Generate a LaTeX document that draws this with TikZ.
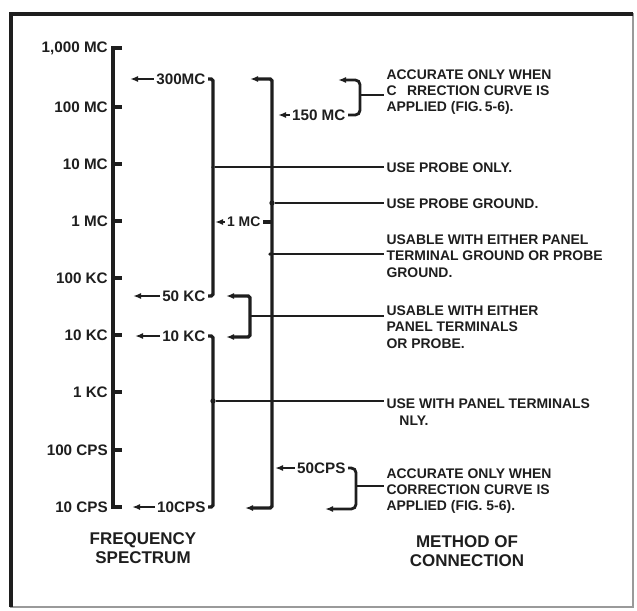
\documentclass[tikz,border=0pt]{standalone}
\usepackage{fontspec}
\setmainfont{Liberation Sans}
\usetikzlibrary{arrows.meta}
\definecolor{Ink}{HTML}{1E1E1E}
\definecolor{Frame}{HTML}{9A9A9A}

\begin{document}
\begin{tikzpicture}[x=0.3mm,y=-0.3mm,
  every node/.style={font=\bfseries\fontsize{11.9}{14}\selectfont,text=Ink,inner sep=0pt},
  freq/.style={anchor=east,font=\bfseries\fontsize{13}{14}\selectfont},
  lim/.style={anchor=east,inner sep=2pt,font=\bfseries\fontsize{13}{14}\selectfont},
  note/.style={anchor=west,align=left,inner sep=2pt},
  heading/.style={font=\bfseries\fontsize{14.5}{16.5}\selectfont,align=center},
  axis/.style={line width=2.8pt,color=Ink},
  bar/.style={line width=2.8pt,color=Ink,rounded corners=1.5pt},
  lead/.style={line width=1.8pt,color=Ink},
  ltip/.style={-{Latex[length=2.4mm,width=1.8mm]},line width=1.8pt,color=Ink},
  twotip/.style={{Latex[length=2.4mm,width=1.8mm]}-{Latex[length=2.4mm,width=1.8mm]}},
  brace/.style={line width=2.4pt,color=Ink,rounded corners=4pt},
  tap/.style={circle,fill=Ink,minimum size=4.5pt,inner sep=0pt}
]
\useasboundingbox (0,0) rectangle (637,610);
\draw[line width=1pt,color=Frame] (11,14) rectangle (633,607);
\draw[line width=2.6pt,color=Ink] (11,607) -- (11,14) -- (633,14);

% frequency scale
\node[freq] (f1000) at (108,48) {1,000 MC};
\node[freq] (f100m) at (108,107) {100 MC};
\node[freq] (f10m) at (108,164) {10 MC};
\node[freq] (f1m) at (108,221) {1 MC};
\node[freq] (f100k) at (108,278) {100 KC};
\node[freq] (f10k) at (108,335) {10 KC};
\node[freq] (f1k) at (108,392) {1 KC};
\node[freq] (f100c) at (108,450) {100 CPS};
\node[freq] (f10c) at (108,507) {10 CPS};
\coordinate (axis) at (113,0);
\draw[axis] (axis |- f1000) ++(9,0) -- (axis |- f1000) -- (axis |- f10c) -- ++(9,0);
\draw[axis] (axis |- f100m) -- ++(9,0) (axis |- f10m) -- ++(9,0)
  (axis |- f1m) -- ++(9,0) (axis |- f100k) -- ++(9,0) (axis |- f10k) -- ++(9,0)
  (axis |- f1k) -- ++(9,0) (axis |- f100c) -- ++(9,0);

% range limits
\node[lim] (r300) at (208,79) {300MC};
\node[lim] (r50k) at (208,296) {50 KC};
\node[lim] (r10k) at (208,336) {10 KC};
\node[lim] (r10c) at (208,507) {10CPS};
\node[lim,font=\bfseries\fontsize{11.9}{14}\selectfont] (r1m) at (263,222) {1 MC};
\node[lim] (r150) at (348,115) {150 MC};
\node[lim] (r50c) at (348,468) {50CPS};
\coordinate (a300) at (130,79);
\coordinate (a50k) at (133,296);
\coordinate (a10k) at (135,336);
\coordinate (a10c) at (132,507);
\coordinate (a1m) at (215,222);
\coordinate (a150) at (278,115);
\coordinate (a50c) at (275,468);
\draw[ltip] (r300) -- (a300);
\draw[ltip] (r50k) -- (a50k);
\draw[ltip] (r10k) -- (a10k);
\draw[ltip] (r10c) -- (a10c);
\draw[ltip] (r1m) -- (a1m);
\draw[ltip] (r150) -- (a150);
\draw[ltip] (r50c) -- (a50c);

\coordinate (colA) at (213,0);
\coordinate (colK) at (250,0);
\coordinate (colC) at (272,0);
\draw[bar] (r300) -- (colA |- r300) -- (colA |- r50k) -- (r50k);
\draw[bar] (r10k) -- (colA |- r10k) -- (colA |- r10c) -- (r10c);
\coordinate (ctop) at (250,79);
\coordinate (cbot) at (245,508);
\draw[bar,twotip] (ctop) -- (colC |- ctop) -- (colC |- cbot) -- (cbot);
\draw[bar] (r1m) -- (colC |- r1m);
\coordinate (ktop) at (226,296);
\coordinate (kbot) at (226,337);
\draw[bar,twotip] (ktop) -- (colK |- ktop) -- (colK |- kbot) -- (kbot);

% braces
\coordinate (btop) at (338,80);
\coordinate (bmid) at (360,95);
\draw[brace,{Latex[length=2.4mm,width=1.8mm]}-] (btop) -- (bmid |- btop) -- (bmid |- r150) -- (r150);
\coordinate (dbot) at (325,509);
\coordinate (dmid) at (356,486);
\draw[brace,-{Latex[length=2.4mm,width=1.8mm]}] (r50c) -- (dmid |- r50c) -- (dmid |- dbot) -- (dbot);

% method of connection
\node[note] (note1) at (384,92) {ACCURATE ONLY WHEN\\C\hspace{0.75em}RRECTION CURVE IS\\APPLIED (FIG.\,5-6).};
\node[note] (note2) at (384,168) {USE PROBE ONLY.};
\node[note] (note3) at (384,204) {USE PROBE GROUND.};
\node[note] (note4) at (384,256) {USABLE WITH EITHER PANEL\\TERMINAL GROUND OR PROBE\\GROUND.};
\node[note] (note5) at (384,327) {USABLE WITH EITHER\\PANEL TERMINALS\\OR PROBE.};
\node[note] (note6) at (384,412) {USE WITH PANEL TERMINALS\\\hspace{11pt}NLY.};
\node[note] (note7) at (384,491) {ACCURATE ONLY WHEN\\CORRECTION CURVE IS\\APPLIED (FIG. 5-6).};

\node[tap,minimum size=3pt] (j1) at (213,167) {};
\node[tap] (j2) at (272,203) {};
\node[tap,minimum size=3pt] (j3) at (270,254) {};
\node[tap] (j4) at (213,401) {};
\coordinate (kmid) at (250,316);
\draw[lead] (bmid) -- (note1.west |- bmid);
\draw[lead] (j1) -- (note2.west |- j1);
\draw[lead] (j2) -- (note3.west |- j2);
\draw[lead] (j3) -- (note4.west |- j3);
\draw[lead] (kmid) -- (note5.west |- kmid);
\draw[lead] (j4) -- (note6.west |- j4);
\draw[lead] (dmid) -- (note7.west |- dmid);

\node[heading] (spec) at (143,548) {FREQUENCY\\SPECTRUM};
\node[heading] (meth) at (467,551) {METHOD OF\\CONNECTION};
\end{tikzpicture}
\end{document}
